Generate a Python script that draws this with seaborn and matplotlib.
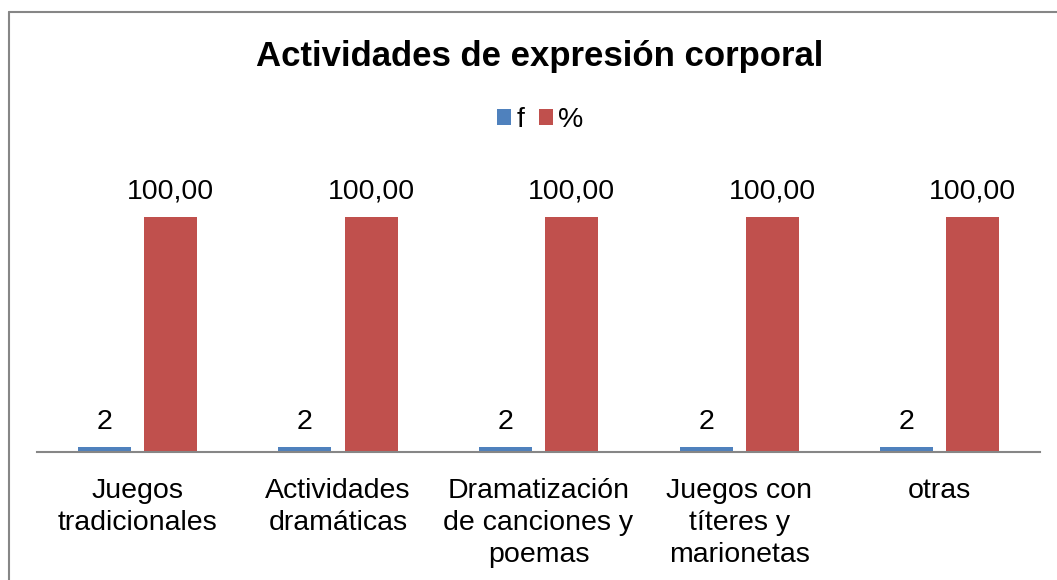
import matplotlib
matplotlib.use("Agg")
import matplotlib.pyplot as plt
import pandas as pd
import seaborn as sns
from matplotlib.lines import Line2D
from matplotlib.patches import Patch

categorias = ["Juegos\ntradicionales", "Actividades\ndramáticas",
              "Dramatización\nde canciones y\npoemas", "Juegos con\ntíteres y\nmarionetas",
              "otras"]
f_vals = [2, 2, 2, 2, 2]
pct_vals = [100.00, 100.00, 100.00, 100.00, 100.00]
series = ["f", "%"]
colores = ["#4F81BD", "#C0504D"]

df = pd.DataFrame({
    "cat": categorias * 2,
    "serie": ["f"] * len(categorias) + ["%"] * len(categorias),
    "valor": f_vals + pct_vals,
})

sns.set_style("white")
plt.rcParams["font.family"] = ["Liberation Sans", "DejaVu Sans"]
plt.rcParams["text.color"] = "black"
plt.rcParams["xtick.color"] = "black"

fig = plt.figure(figsize=(10.57, 5.8), dpi=100)
ax = fig.add_axes([0.035, 0.2207, 0.949, 0.486])

sns.barplot(data=df, x="cat", y="valor", hue="serie", hue_order=series,
            palette=colores, width=0.66, gap=0.2, saturation=1, ax=ax,
            legend=False, errorbar=None, linewidth=0)

# etiquetas de datos
for cont, vals, fmt in zip(ax.containers, [f_vals, pct_vals], ["{:.0f}", "{:.2f}"]):
    labs = [fmt.format(v).replace(".", ",") for v in vals]
    ax.bar_label(cont, labels=labs, padding=9, fontsize=20.5, color="black")

ax.set_ylim(0, 120)
ax.set_xlim(-0.5, len(categorias) - 0.5)
ax.set_xlabel("")
ax.set_ylabel("")
ax.set_yticks([])
for s in ["top", "right", "left"]:
    ax.spines[s].set_visible(False)
ax.spines["bottom"].set_color("#868686")
ax.spines["bottom"].set_linewidth(1.5)
ax.tick_params(axis="x", length=0, pad=19, labelsize=20.5, labelcolor="black")
for t in ax.get_xticklabels():
    t.set_linespacing(1.3)
    t.set_verticalalignment("top")

fig.text(0.511, 0.903, "Actividades de expresión corporal", ha="center", va="center",
         fontsize=25, fontweight="bold", color="black")

handles = [Patch(facecolor=c, edgecolor="none") for c in colores]
fig.legend(handles, series, loc="center", bbox_to_anchor=(0.511, 0.793), ncol=2,
           frameon=False, fontsize=20.5, handlelength=0.5, handleheight=0.5,
           handletextpad=0.2, columnspacing=0.5)

# borde del gráfico
fig.add_artist(Line2D([0.0085, 0.0085], [-0.1, 0.979], color="#868686", lw=1.5))
fig.add_artist(Line2D([0.0085, 1.1], [0.979, 0.979], color="#868686", lw=1.5))

fig.savefig("out.png", dpi=100)
